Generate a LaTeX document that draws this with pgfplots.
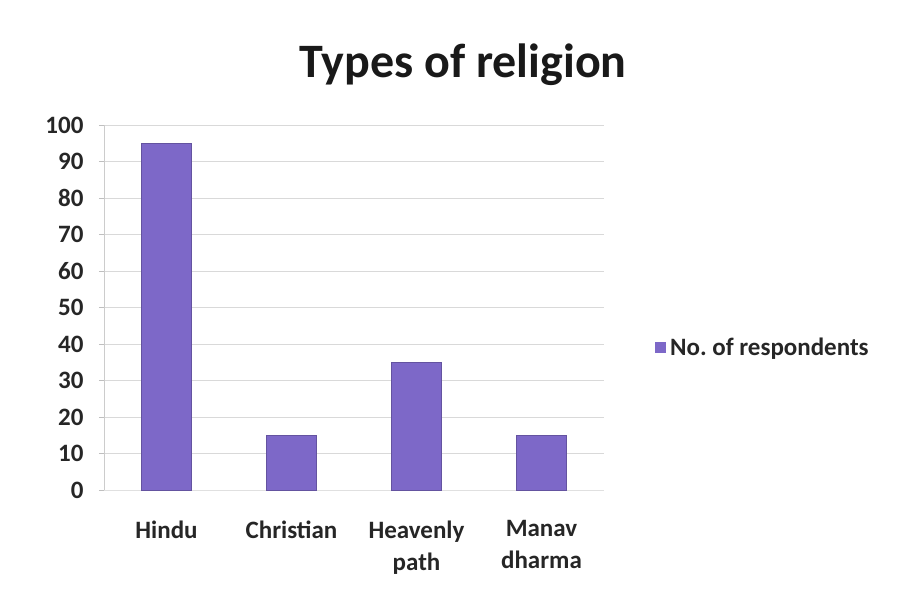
\documentclass[border=0pt]{standalone}
\usepackage{fontspec}
\setmainfont{Carlito}
\usepackage{pgfplots}
\pgfplotsset{compat=1.18}
\definecolor{barpurple}{HTML}{7D68C8}
\frenchspacing
\begin{document}
\begin{tikzpicture}[x=1pt,y=1pt]
\path[use as bounding box] (0,0) rectangle (901,605);
\begin{axis}[
  at={(104pt,115pt)}, anchor=south west,
  scale only axis, width=500pt, height=365pt,
  ybar, bar width=50pt,
  xmin=-0.5, xmax=3.5, ymin=0, ymax=100,
  xtick={0,1,2,3},
  xticklabels={Hindu,Christian,Heavenly\\path,Manav\\dharma},
  ytick={0,10,...,100},
  ymajorgrids, grid style={draw=black!15, line width=0.8pt},
  axis x line*=bottom, axis y line*=left,
  x axis line style={draw=black!12, -},
  y axis line style={draw=black!20, -},
  xtick style={draw=none},
  ytick style={draw=black!25},
  major tick length=5pt,
  tick align=outside,
  /pgf/number format/assume math mode=true,
  tick label style={font=\fontsize{25}{32}\selectfont\bfseries, text=black!85},
  xticklabel style={align=center, yshift=-22pt},
  yticklabel style={xshift=-12pt},
  title={\fontsize{48}{54}\selectfont\bfseries Types of religion},
  title style={at={(axis description cs:0.718,1.15)}, anchor=center, text=black!90},
  legend style={at={(axis description cs:1.095,0.39)}, anchor=west, draw=none, fill=none,
    font=\fontsize{25}{30}\selectfont\bfseries, text=black!85},
  legend image code/.code={\fill[barpurple] (0pt,-5pt) rectangle (10pt,5pt);},
  legend cell align=left,
]
\addplot[fill=barpurple, draw=barpurple!80!black] coordinates {(0,95) (1,15) (2,35) (3,15)};
\addlegendentry{\hspace{3pt}No.\ of respondents}
\end{axis}
\end{tikzpicture}
\end{document}
